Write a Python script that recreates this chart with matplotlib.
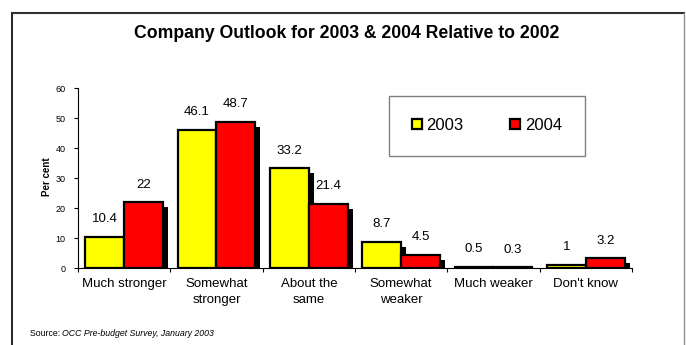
import matplotlib
matplotlib.use("Agg")
import matplotlib.pyplot as plt
import numpy as np
from matplotlib.patches import Patch
from matplotlib.lines import Line2D

plt.rcParams['font.family'] = ['Liberation Sans', 'DejaVu Sans']

categories = ["Much stronger", "Somewhat\nstronger", "About the\nsame",
              "Somewhat\nweaker", "Much weaker", "Don't know"]
y2003 = [10.4, 46.1, 33.2, 8.7, 0.5, 1]
y2004 = [22, 48.7, 21.4, 4.5, 0.3, 3.2]
labels2003 = ["10.4", "46.1", "33.2", "8.7", "0.5", "1"]
labels2004 = ["22", "48.7", "21.4", "4.5", "0.3", "3.2"]

W, H = 686, 345
fig = plt.figure(figsize=(W / 100, H / 100), dpi=100)
ax = fig.add_axes([78 / W, 1 - 268 / H, (632 - 78) / W, (268 - 88) / H])

x = np.arange(len(categories))
bw = 0.42
sx = 0.054   # drop shadow shift (x, in categories)
sy = 1.67    # drop shadow shift (y, in per cent)

for vals, off in ((y2003, -bw / 2), (y2004, bw / 2)):
    h = np.clip(np.array(vals, dtype=float) - sy, 0, None)
    ax.bar(x + off + sx, h, bw, color="black", linewidth=0, zorder=1)

ax.bar(x - bw / 2, y2003, bw, color="#FFFF00", edgecolor="black", linewidth=1.6, zorder=2)
ax.bar(x + bw / 2, y2004, bw, color="#FF0000", edgecolor="black", linewidth=1.6, zorder=2)

for xi, v, s in zip(x - bw / 2, y2003, labels2003):
    ax.annotate(s, (xi, v), xytext=(0, 12.6), textcoords="offset points",
                ha="center", va="center", fontsize=9.5)
for xi, v, s in zip(x + bw / 2, y2004, labels2004):
    ax.annotate(s, (xi, v), xytext=(0, 12.6), textcoords="offset points",
                ha="center", va="center", fontsize=9.5)

ax.set_xlim(-0.5, len(categories) - 0.5)
ax.set_ylim(0, 60)
ax.set_yticks(range(0, 61, 10))
ax.tick_params(axis="y", labelsize=6.5, length=3, width=0.8, pad=6)
ax.set_xticks(np.arange(-0.5, len(categories), 1.0))
ax.set_xticklabels([])
ax.tick_params(axis="x", which="major", length=3, width=0.8)
ax.set_xticks(x, minor=True)
ax.set_xticklabels(categories, minor=True, fontsize=9.5, linespacing=1.45)
ax.tick_params(axis="x", which="minor", length=0, pad=7)

for side in ("top", "right"):
    ax.spines[side].set_visible(False)
for side in ("left", "bottom"):
    ax.spines[side].set_linewidth(0.8)

fig.text(47 / W, 1 - 177 / H, "Per cent", rotation=90, fontsize=7,
         fontweight="bold", ha="center", va="center")

fig.text(347 / W, 1 - 34 / H, "Company Outlook for 2003 & 2004 Relative to 2002",
         fontsize=12.7, fontweight="bold", ha="center", va="center")

handles = [Patch(facecolor="#FFFF00", edgecolor="black", linewidth=1.6),
           Patch(facecolor="#FF0000", edgecolor="black", linewidth=1.6)]
leg = fig.legend(handles, ["2003", "2004"], ncol=2, loc="center",
                 bbox_to_anchor=(487 / W, 1 - 125.5 / H), fontsize=12,
                 frameon=True, fancybox=False, edgecolor="#606060",
                 handlelength=0.6, handleheight=0.6, handletextpad=0.3,
                 columnspacing=2.8, borderpad=1.35)
leg.get_frame().set_linewidth(1.0)

# source line: plain prefix, italic remainder
src = fig.text(30 / W, 1 - 333 / H, "Source: ", fontsize=6.3, ha="left", va="center")
fig.canvas.draw()
bb = src.get_window_extent(fig.canvas.get_renderer())
fig.text(bb.x1 / W, 1 - 333 / H, "OCC Pre-budget Survey, January 2003",
         fontsize=6.3, style="italic", ha="left", va="center")

# outer frame
fig.add_artist(Line2D([12 / W, 12 / W], [0, 1 - 13 / H], color="black", lw=1.2))
fig.add_artist(Line2D([12 / W, 684 / W], [1 - 13 / H, 1 - 13 / H], color="#303030", lw=1.5))
fig.add_artist(Line2D([684 / W, 684 / W], [0, 1 - 13 / H], color="#909090", lw=1.0))

fig.savefig("out.png", dpi=100)
